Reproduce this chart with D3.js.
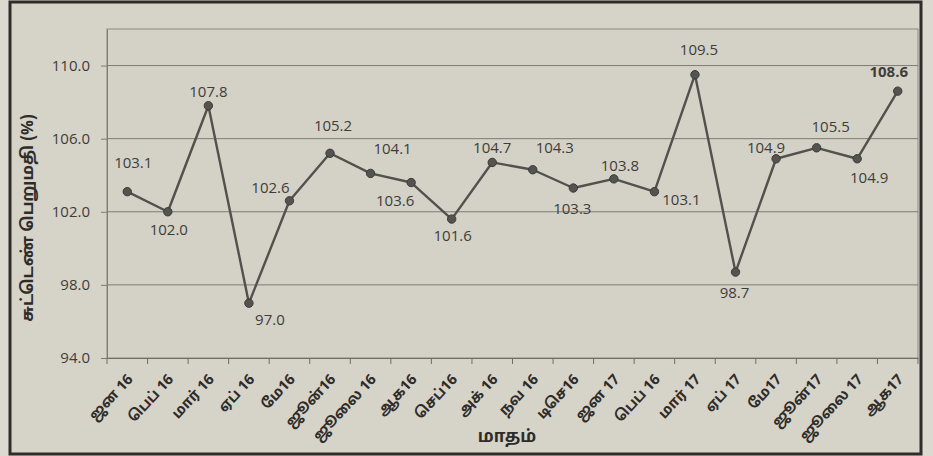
<!DOCTYPE html>
<html><head><meta charset="utf-8">
<script src="https://cdn.jsdelivr.net/npm/d3@7/dist/d3.min.js"></script>
<style>
html,body{margin:0;padding:0;background:#dcd9d0;}
svg{display:block}
</style>
</head><body>
<svg id="chart" width="933" height="456"></svg>
<script>
// ---- data ----
const months = ["ஜன 16","பெப் 16","மார் 16","ஏப் 16","மே16","ஜூன்16","ஜூலை 16","ஆக16","செப்16","அக் 16","நவ 16","டிசெ16","ஜன 17","பெப் 16","மார் 17","ஏப் 17","மே17","ஜூன்17","ஜூலை 17","ஆக17"];
const values = [103.1,102.0,107.8,97.0,102.6,105.2,104.1,103.6,101.6,104.7,104.3,103.3,103.8,103.1,109.5,98.7,104.9,105.5,104.9,108.6];
const yTicks = [94,98,102,106,110];
const yDomain = [94,112];
const yTitle = "சுட்டெண் பெறுமதி (%)";
const xTitle = "மாதம்";

// label placement (offset of label centre from its point), layout only
const labelOffsets = [[6,-30],[1,17],[0,-15],[21,16],[-19,-14],[3,-28],[22,-25],[-16,17],[1,16],[0,-15],
                      [22,-23],[-1,20],[6,-14],[27,7],[4,-26],[-1,20],[-10,-12],[14,-22],[12,18],[-9,-20]];

const W = 933, H = 456;
const plot = {left:107, right:918, top:29, bottom:358};
const svg = d3.select("#chart");
const ink = "#3f3d3a";
const tamilFont = "'Noto Sans Tamil','Lohit Tamil','Latha','Noto Sans',sans-serif";
const numFont = "'Open Sans','DejaVu Sans',sans-serif";

// outer frame
svg.append("rect").attr("x",0).attr("y",0).attr("width",W).attr("height",H).attr("fill","#dcd9d0");
svg.append("rect").attr("x",10).attr("y",2).attr("width",911).attr("height",452)
   .attr("fill","#d6d3c9").attr("stroke","#2f2d2a").attr("stroke-width",3);

// plot area
svg.append("rect").attr("x",plot.left).attr("y",plot.top)
   .attr("width",plot.right-plot.left).attr("height",plot.bottom-plot.top)
   .attr("fill","#d4d1c7").attr("stroke","#8c8a84").attr("stroke-width",1);

const idx = d3.range(months.length);
const x = d3.scaleBand().domain(idx).range([plot.left,plot.right]).padding(0);
const y = d3.scaleLinear().domain(yDomain).range([plot.bottom,plot.top]);

// gridlines
svg.append("g").selectAll("line").data(yTicks.slice(1)).join("line")
  .attr("x1",plot.left).attr("x2",plot.right)
  .attr("y1",d=>y(d)).attr("y2",d=>y(d))
  .attr("stroke","#7d7b76").attr("stroke-width",1);

// y axis
const yAxis = svg.append("g").attr("transform",`translate(${plot.left},0)`)
  .call(d3.axisLeft(y).tickValues(yTicks).tickFormat(d3.format(".1f")).tickSize(6).tickPadding(11).tickSizeOuter(0));
yAxis.select(".domain").attr("stroke","#7d7b76");
yAxis.selectAll(".tick line").attr("stroke","#7d7b76");
yAxis.selectAll(".tick text").attr("fill",ink).style("font-family",numFont).style("font-size","15px");

// x axis
const xAxis = svg.append("g").attr("transform",`translate(0,${plot.bottom})`)
  .call(d3.axisBottom(x).tickSize(0).tickSizeOuter(0).tickFormat(""));
xAxis.select(".domain").attr("stroke","#6f6d68");
const bounds = idx.map(i=>x(i)).concat([x(idx[idx.length-1])+x.bandwidth()]);
xAxis.append("g").selectAll("line").data(bounds).join("line")
  .attr("x1",d=>d).attr("x2",d=>d).attr("y1",0).attr("y2",6)
  .attr("stroke","#6f6d68");

const cx = i=>x(i)+x.bandwidth()/2;

// x tick labels (rotated)
svg.append("g").selectAll("text").data(months).join("text")
  .attr("transform",(d,i)=>`translate(${cx(i)-1},${plot.bottom+15}) rotate(-47)`)
  .attr("text-anchor","end")
  .attr("dy","0.7em")
  .attr("fill","#2e2c29")
  .style("font-family",tamilFont).style("font-size","14.5px").style("font-weight","bold")
  .text(d=>d);

// line
svg.append("path").datum(values)
  .attr("d",d3.line().x((d,i)=>cx(i)).y(d=>y(d)))
  .attr("fill","none").attr("stroke","#53514d").attr("stroke-width",2.4).attr("stroke-linejoin","round");

svg.append("g").selectAll("circle").data(values).join("circle")
  .attr("cx",(d,i)=>cx(i)).attr("cy",d=>y(d)).attr("r",4.2)
  .attr("fill","#55534f").attr("stroke","#3d3b38").attr("stroke-width",1);

// data labels
svg.append("g").selectAll("text").data(values).join("text")
  .attr("x",(d,i)=>cx(i)+labelOffsets[i][0])
  .attr("y",(d,i)=>y(d)+labelOffsets[i][1])
  .attr("text-anchor","middle").attr("dominant-baseline","central")
  .attr("fill",ink)
  .style("font-family",numFont).style("font-size","15px")
  .style("font-weight",(d,i)=>i===values.length-1?"bold":"normal")
  .text(d=>d3.format(".1f")(d));

// axis titles
svg.append("text").attr("x",507).attr("y",442).attr("text-anchor","middle")
  .attr("fill","#2e2c29").style("font-family",tamilFont).style("font-size","17px").style("font-weight","bold")
  .text(xTitle);
svg.append("text").attr("transform","translate(29,218) rotate(-90)").attr("text-anchor","middle")
  .attr("dominant-baseline","central")
  .attr("fill","#2e2c29").style("font-family",tamilFont).style("font-size","16.5px").style("font-weight","bold")
  .text(yTitle);
</script>
</body></html>
